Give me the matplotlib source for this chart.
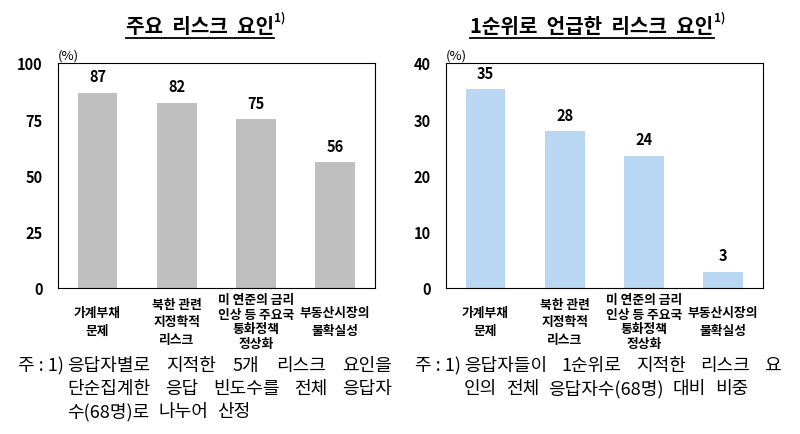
import matplotlib
matplotlib.use("Agg")
import matplotlib.pyplot as plt

plt.rcParams['font.family'] = ['Noto Sans CJK KR', 'DejaVu Sans']

categories = ['가계부채\n문제', '북한 관련\n지정학적\n리스크',
              '미 연준의 금리\n인상 등 주요국\n통화정책\n정상화', '부동산시장의\n불확실성']
main_values = [86.8, 82.4, 75.0, 55.9]
main_labels = ['87', '82', '75', '56']
first_values = [35.3, 27.9, 23.5, 2.9]
first_labels = ['35', '28', '24', '3']

left_title = '주요  리스크  요인'
right_title = '1순위로  언급한  리스크  요인'
left_note = ['응답자별로 지적한 5개 리스크 요인을',
             '단순집계한 응답 빈도수를 전체 응답자',
             '수(68명)로 나누어 산정']
right_note = ['응답자들이 1순위로 지적한 리스크 요',
              '인의 전체 응답자수(68명) 대비 비중']

fig = plt.figure(figsize=(8, 4.35), dpi=100)
W, H = 800, 435


def justified(lines, x0, x1, y0, dy, size):
    # spread the words of each line across x0..x1 (pixels); last line uses a plain gap
    r = fig.canvas.get_renderer()
    for i, line in enumerate(lines):
        words = line.split()
        texts = [fig.text(0, 0, w, fontsize=size, ha='left', va='baseline') for w in words]
        widths = [t.get_window_extent(r).width for t in texts]
        gap = (x1 - x0 - sum(widths)) / (len(words) - 1)
        if i == len(lines) - 1:
            gap = min(gap, 9)
        x = x0
        for t, w in zip(texts, widths):
            t.set_position((x / W, 1 - (y0 + i * dy) / H))
            x += w + gap


def draw_panel(left, values, labels, color, ymax, step, title, title_x, note, note_x, note_right):
    ax = fig.add_axes([left, 0.336, 0.396, 0.517])
    x = range(len(values))
    ax.bar(x, values, width=0.5, color=color)
    ax.set_xlim(-0.5, len(values) - 0.5)
    ax.set_ylim(0, ymax)
    ax.set_yticks(range(0, ymax + 1, step))
    ax.tick_params(axis='y', length=0, pad=11, labelsize=10.5)
    for t in ax.get_yticklabels():
        t.set_fontweight('bold')
    ax.set_xticks([])
    for s in ax.spines.values():
        s.set_linewidth(0.8)
    for xi, v, lab in zip(x, values, labels):
        ax.annotate(lab, (xi, v), xytext=(0, 6), textcoords='offset points',
                    ha='center', va='bottom', fontsize=10.5, fontweight='bold')
    for xi, cat in zip(x, categories):
        n = cat.count('\n') + 1
        ax.text(xi, -0.15, cat, transform=ax.get_xaxis_transform(), ha='center',
                va='center', fontsize=9.2, fontweight='bold',
                linespacing=1.15 if n > 3 else 1.45)
    ax.text(0.0, 1.005, '(%)', transform=ax.transAxes, ha='left', va='bottom', fontsize=9.5)

    t = fig.text(title_x, 0.925, title, ha='center', va='baseline', fontsize=14.5, fontweight='bold')
    fig.canvas.draw()
    bb = t.get_window_extent().transformed(fig.transFigure.inverted())
    fig.add_artist(plt.Line2D([bb.x0, bb.x1], [bb.y0 - 0.005, bb.y0 - 0.005],
                              color='black', lw=1.3, transform=fig.transFigure))
    fig.text(bb.x1, 0.95, '1)', ha='left', va='baseline', fontsize=8.5, fontweight='bold')

    fig.text(note_x / W, 1 - 371 / H, '주 : 1)', ha='left', va='baseline', fontsize=13)
    justified(note, note_x + 49, note_right, 371, 23, 13)


draw_panel(0.0725, main_values, main_labels, '#bfbfbf', 100, 25,
           left_title, 0.25, left_note, 18, 392)
draw_panel(0.5575, first_values, first_labels, '#b9d7f2', 40, 10,
           right_title, 0.74, right_note, 415, 781)

fig.savefig('out.png', dpi=100)
